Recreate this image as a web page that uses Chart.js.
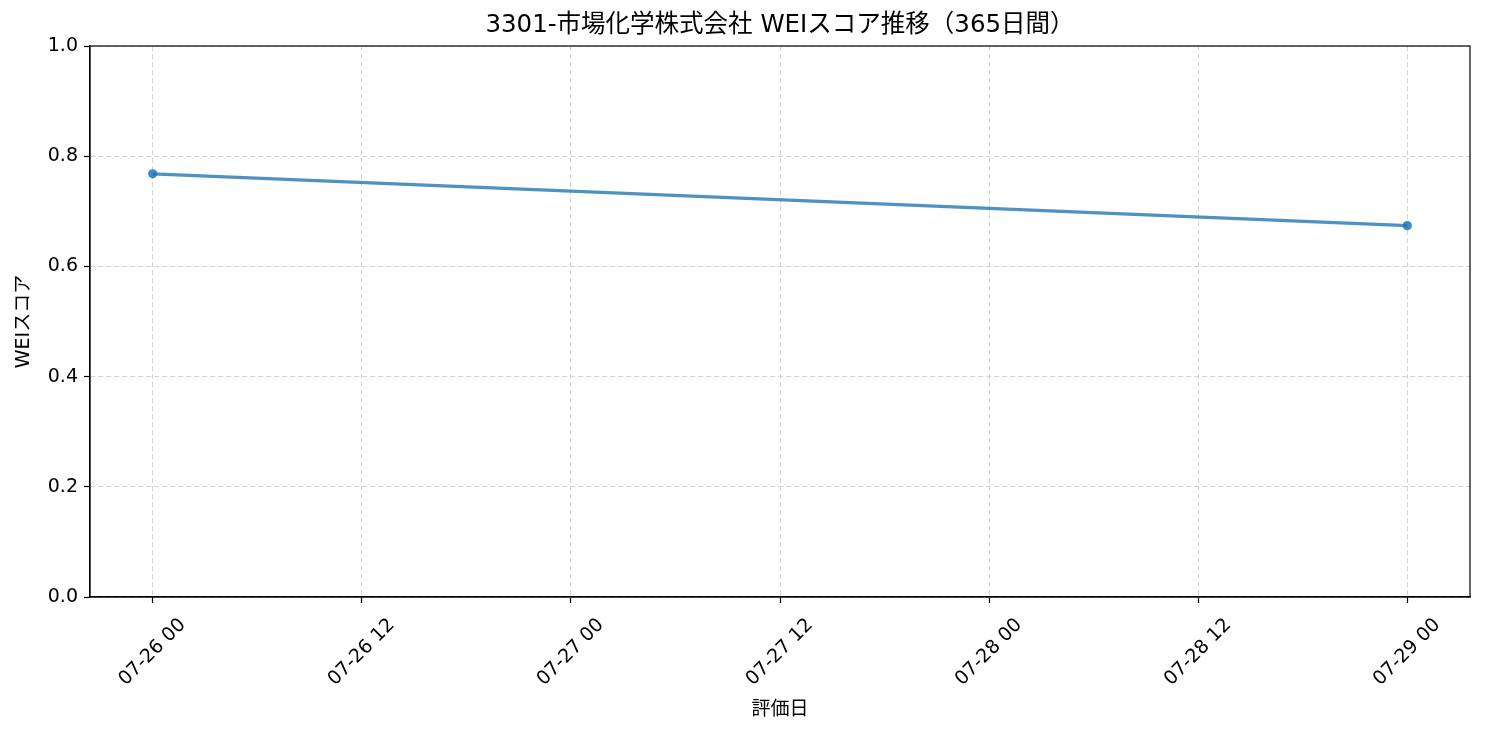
<!DOCTYPE html>
<html>
<head>
<meta charset="utf-8">
<script src="https://cdn.jsdelivr.net/npm/chart.js@4"></script>
<style>
  html, body { margin: 0; padding: 0; background: #fff; }
  #wrap { width: 1485px; height: 735px; }
</style>
</head>
<body>
<div id="wrap"><canvas id="myChart"></canvas></div>
<script>
// hours since 07-26 00:00
const evalHours = [0, 72];
const scores = [0.768, 0.674];
const tickHours = [0, 12, 24, 36, 48, 60, 72];
const tickLabels = ['07-26 00', '07-26 12', '07-27 00', '07-27 12', '07-28 00', '07-28 12', '07-29 00'];
const yTicks = [0, 0.2, 0.4, 0.6, 0.8, 1.0];

const FONT = "'DejaVu Sans', 'Noto Sans CJK JP', sans-serif";
Chart.defaults.font.family = FONT;
Chart.defaults.color = '#000';

const frame = {
    id: 'frame',
    afterDraw(chart) {
        const a = chart.chartArea, c = chart.ctx;
        c.save();
        c.strokeStyle = '#000';
        c.lineWidth = 1.2;
        c.strokeRect(a.left, a.top, a.right - a.left, a.bottom - a.top);
        c.restore();
    }
};

const span = tickHours[tickHours.length - 1] - tickHours[0];

const config = {
    type: 'line',
    data: {
        datasets: [{
            data: evalHours.map((h, i) => ({ x: h, y: scores[i] })),
            borderColor: 'rgba(31,119,180,0.8)',
            backgroundColor: 'rgba(31,119,180,0.85)',
            borderWidth: 3.3,
            pointRadius: 4.6,
            pointBorderWidth: 0,
            pointHoverRadius: 4.6,
            tension: 0
        }]
    },
    options: {
        responsive: true,
        maintainAspectRatio: false,
        animation: false,
        layout: { padding: { left: 0, right: 15, top: 0, bottom: 0 } },
        plugins: {
            legend: { display: false },
            tooltip: { enabled: false },
            title: {
                display: true,
                fullSize: false,
                text: '3301-市場化学株式会社 WEIスコア推移（365日間）',
                color: '#000',
                font: { size: 24.5, weight: 'normal' },
                padding: { top: 11, bottom: 5.6 }
            }
        },
        scales: {
            x: {
                type: 'linear',
                min: tickHours[0] - span * 0.05,
                max: tickHours[tickHours.length - 1] + span * 0.05,
                afterBuildTicks: s => { s.ticks = tickHours.map(v => ({ value: v })); },
                afterFit: s => { s.height = 138; },
                ticks: {
                    autoSkip: false,
                    minRotation: 45,
                    maxRotation: 45,
                    padding: 11,
                    labelOffset: 30,
                    color: '#000',
                    font: { size: 19 },
                    callback: v => tickLabels[tickHours.indexOf(v)]
                },
                grid: {
                    color: '#d3d3d3',
                    lineWidth: 1,
                    tickColor: '#000',
                    tickLength: 6,
                    tickWidth: 1.2
                },
                border: { display: true, color: '#000', width: 1.2, dash: [5, 3] },
                title: {
                    display: true,
                    text: '評価日',
                    color: '#000',
                    font: { size: 19 },
                    padding: { top: 0, bottom: 14 }
                }
            },
            y: {
                min: 0,
                max: 1,
                afterBuildTicks: s => { s.ticks = yTicks.map(v => ({ value: v })); },
                afterFit: s => { s.width = 90; },
                ticks: {
                    color: '#000',
                    font: { size: 19 },
                    padding: 6,
                    callback: v => v.toFixed(1)
                },
                grid: {
                    color: '#d3d3d3',
                    lineWidth: 1,
                    tickColor: '#000',
                    tickLength: 6,
                    tickWidth: 1.2
                },
                border: { display: true, color: '#000', width: 1.2, dash: [5, 3] },
                title: {
                    display: true,
                    text: 'WEIスコア',
                    color: '#000',
                    font: { size: 19 },
                    padding: { top: 13, bottom: 6 }
                }
            }
        }
    },
    plugins: [frame]
};

const myChart = new Chart(document.getElementById('myChart'), config);
</script>
</body>
</html>
